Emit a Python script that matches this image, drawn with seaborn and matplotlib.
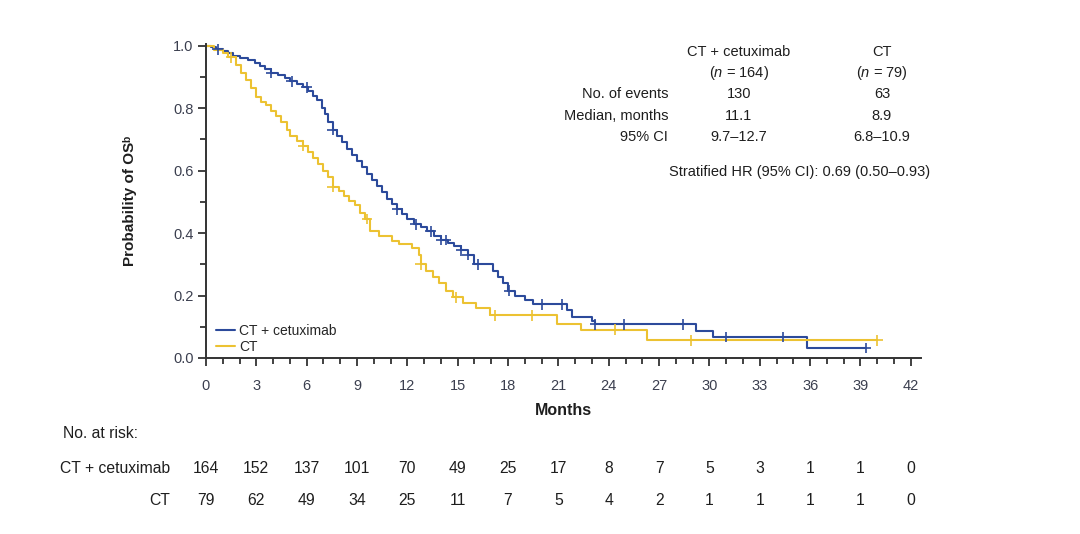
import numpy as np
import pandas as pd
import matplotlib
matplotlib.use("Agg")
import matplotlib.pyplot as plt
import seaborn as sns

# ==========================================================
# KAPLAN-MEIER DATA
# ==========================================================

months_cetux = [0, 0.3, 0.6, 1.0, 1.3, 1.6, 2.0, 2.5, 2.9, 3.2, 3.5, 3.9, 4.3, 4.7,
                5.0, 5.4, 5.8, 6.1, 6.4, 6.6, 6.9, 7.1, 7.3, 7.55, 7.8, 8.1, 8.4,
                8.7, 9.0, 9.3, 9.6, 9.9, 10.2, 10.5, 10.8, 11.1, 11.4, 11.7, 12.0,
                12.4, 12.8, 13.2, 13.6, 14.0, 14.4, 14.8, 15.2, 15.6, 16.0, 17.1,
                17.4, 17.7, 18.0, 18.4, 19.0, 19.5, 21.5, 21.8, 23.0, 23.2, 29.2,
                30.2, 35.8, 39.3]
surv_cetux = [1.0, 0.994, 0.988, 0.982, 0.975, 0.966, 0.96, 0.955, 0.945, 0.935,
              0.925, 0.912, 0.905, 0.895, 0.885, 0.876, 0.866, 0.855, 0.84, 0.826,
              0.80, 0.78, 0.755, 0.73, 0.71, 0.69, 0.67, 0.65, 0.63, 0.61, 0.59,
              0.57, 0.55, 0.53, 0.51, 0.494, 0.476, 0.46, 0.445, 0.428, 0.418,
              0.405, 0.39, 0.378, 0.368, 0.358, 0.345, 0.33, 0.30, 0.28, 0.26,
              0.24, 0.215, 0.20, 0.185, 0.172, 0.153, 0.13, 0.12, 0.108, 0.086,
              0.067, 0.032, 0.032]
censor_cetux = [0.7, 3.9, 5.1, 6.0, 7.55, 11.4, 12.5, 13.4, 14.0, 14.3, 15.2, 15.6,
                16.2, 18.05, 20.0, 21.2, 23.2, 24.9, 28.4, 31.0, 34.4, 39.3]

months_ct = [0, 0.5, 1.0, 1.3, 1.8, 2.1, 2.4, 2.7, 3.0, 3.3, 3.6, 3.9, 4.2, 4.5,
             4.8, 5.0, 5.4, 5.8, 6.1, 6.4, 6.7, 7.0, 7.3, 7.55, 7.9, 8.2, 8.5,
             8.9, 9.2, 9.5, 9.8, 10.3, 11.1, 11.5, 12.3, 12.7, 12.8, 13.1, 13.5,
             13.9, 14.3, 14.7, 15.3, 16.1, 16.9, 20.9, 22.35, 26.3, 40.0]
surv_ct = [1.0, 0.987, 0.975, 0.962, 0.937, 0.912, 0.89, 0.865, 0.835, 0.82, 0.81,
           0.79, 0.775, 0.755, 0.73, 0.71, 0.695, 0.68, 0.66, 0.64, 0.62, 0.60,
           0.58, 0.548, 0.535, 0.52, 0.503, 0.49, 0.465, 0.445, 0.405, 0.392,
           0.376, 0.365, 0.352, 0.33, 0.30, 0.28, 0.258, 0.24, 0.215, 0.194,
           0.175, 0.16, 0.137, 0.11, 0.09, 0.057, 0.057]
censor_ct = [1.5, 5.8, 7.55, 9.6, 12.8, 14.9, 17.2, 19.4, 24.4, 28.9, 40.0]

# number at risk
risk_months = [0, 3, 6, 9, 12, 15, 18, 21, 24, 27, 30, 33, 36, 39, 42]
risk_cetux = [164, 152, 137, 101, 70, 49, 25, 17, 8, 7, 5, 3, 1, 1, 0]
risk_ct = [79, 62, 49, 34, 25, 11, 7, 5, 4, 2, 1, 1, 1, 1, 0]

arm_names = ["CT + cetuximab", "CT"]
summary_rows = ["No. of events", "Median, months", "95% CI"]
summary_cetux = ["130", "11.1", "9.7\u201312.7"]
summary_ct = ["63", "8.9", "6.8\u201310.9"]
hr_text = "Stratified HR (95% CI): 0.69 (0.50\u20130.93)"

BLUE = "#2c4a9b"
YELLOW = "#ecc232"
TXT = "#1e1e1e"
TICK = "#3b3f4f"

# ==========================================================
# STYLE
# ==========================================================

sns.set_style("ticks")
plt.rcParams["font.family"] = ["Liberation Sans", "DejaVu Sans"]
plt.rcParams["mathtext.fontset"] = "custom"
plt.rcParams["mathtext.it"] = "Liberation Sans:italic"
plt.rcParams["mathtext.rm"] = "Liberation Sans"

df = pd.concat([
    pd.DataFrame({"Months": months_cetux, "Survival": surv_cetux, "Arm": arm_names[0]}),
    pd.DataFrame({"Months": months_ct, "Survival": surv_ct, "Arm": arm_names[1]}),
])


def censor_frame(months, surv, cens, arm):
    months = np.array(months)
    surv = np.array(surv)
    idx = np.searchsorted(months, cens, side="right") - 1
    return pd.DataFrame({"Months": cens, "Survival": surv[idx], "Arm": arm})


cens_df = pd.concat([
    censor_frame(months_cetux, surv_cetux, censor_cetux, arm_names[0]),
    censor_frame(months_ct, surv_ct, censor_ct, arm_names[1]),
])

# ==========================================================
# PLOT
# ==========================================================

fig = plt.figure(figsize=(10.8, 5.34), dpi=100)
ax = fig.add_axes([0.1907, 0.3296, 0.662, 0.588])

sns.lineplot(
    data=df, x="Months", y="Survival", hue="Arm",
    palette={arm_names[0]: BLUE, arm_names[1]: YELLOW},
    hue_order=arm_names, drawstyle="steps-post", estimator=None,
    linewidth=1.5, ax=ax
)

sns.scatterplot(
    data=cens_df, x="Months", y="Survival", hue="Arm",
    palette={arm_names[0]: BLUE, arm_names[1]: YELLOW},
    hue_order=arm_names, marker="+", s=60, linewidth=1.2,
    legend=False, ax=ax, zorder=3
)

ax.set_xlim(0, 42.6)
ax.set_ylim(0, 1.005)
ax.set_xticks(risk_months)
ax.set_xticks(np.arange(0, 43, 1), minor=True)
ax.set_yticks([0.0, 0.2, 0.4, 0.6, 0.8, 1.0])
ax.set_yticks(np.arange(0, 1.01, 0.1), minor=True)
ax.set_yticklabels(["0.0", "0.2", "0.4", "0.6", "0.8", "1.0"])
ax.tick_params(axis="both", which="major", length=6, width=1.3,
               labelsize=10.5, labelcolor=TICK, color="#333333")
ax.tick_params(axis="both", which="minor", length=4, width=1.3, color="#333333")
ax.tick_params(axis="x", which="major", pad=9)
ax.tick_params(axis="y", which="major", pad=3)

for side in ["left", "bottom"]:
    ax.spines[side].set_linewidth(1.4)
    ax.spines[side].set_color("#333333")
sns.despine(ax=ax)

ax.set_xlabel("Months", fontsize=11.5, fontweight="bold", color=TXT, labelpad=7)
ax.set_ylabel("Probability of OS\u1d47", fontsize=11, fontweight="bold",
              color=TXT, labelpad=26)

sns.move_legend(
    ax, loc="lower left", bbox_to_anchor=(0.0, -0.018), frameon=False,
    title=None, fontsize=10, handlelength=1.4, handletextpad=0.3,
    labelspacing=0.15, borderaxespad=0.3
)

# ==========================================================
# SUMMARY TABLE
# ==========================================================

col1_x = 739 / 1080
col2_x = 882 / 1080
lab_x = 668 / 1080
fs_tab = 10.5

fig.text(col1_x, 1 - 52 / 534, arm_names[0], ha="center", va="center", fontsize=fs_tab, color=TXT)
fig.text(col2_x, 1 - 52 / 534, arm_names[1], ha="center", va="center", fontsize=fs_tab, color=TXT)
fig.text(col1_x, 1 - 73 / 534, r"($\it{n}$ = 164)", ha="center", va="center", fontsize=fs_tab, color=TXT)
fig.text(col2_x, 1 - 73 / 534, r"($\it{n}$ = 79)", ha="center", va="center", fontsize=fs_tab, color=TXT)

row_y = [93, 115, 135]
for lab, v1, v2, yy in zip(summary_rows, summary_cetux, summary_ct, row_y):
    fig.text(lab_x, 1 - yy / 534, lab, ha="right", va="center_baseline", fontsize=fs_tab, color=TXT)
    fig.text(col1_x, 1 - yy / 534, v1, ha="center", va="center_baseline", fontsize=fs_tab, color=TXT)
    fig.text(col2_x, 1 - yy / 534, v2, ha="center", va="center_baseline", fontsize=fs_tab, color=TXT)

fig.text(669 / 1080, 1 - 172 / 534, hr_text, ha="left", va="center", fontsize=fs_tab, color=TXT)

# ==========================================================
# NUMBER AT RISK
# ==========================================================

fs_risk = 11.3
trans = ax.get_xaxis_transform()

fig.text(63 / 1080, 1 - 432 / 534, "No. at risk:", ha="left", va="center_baseline",
         fontsize=fs_risk, color=TXT)

for arm, counts, ypx in zip(arm_names, [risk_cetux, risk_ct], [467, 499]):
    y_ax = (358 - ypx) / 314
    fig.text(170 / 1080, 1 - ypx / 534, arm, ha="right", va="center_baseline",
             fontsize=fs_risk, color=TXT)
    for m, c in zip(risk_months, counts):
        ax.text(m, y_ax, str(c), transform=trans, ha="center", va="center_baseline",
                fontsize=fs_risk, color=TXT, clip_on=False)

fig.savefig("out.png", dpi=100)
